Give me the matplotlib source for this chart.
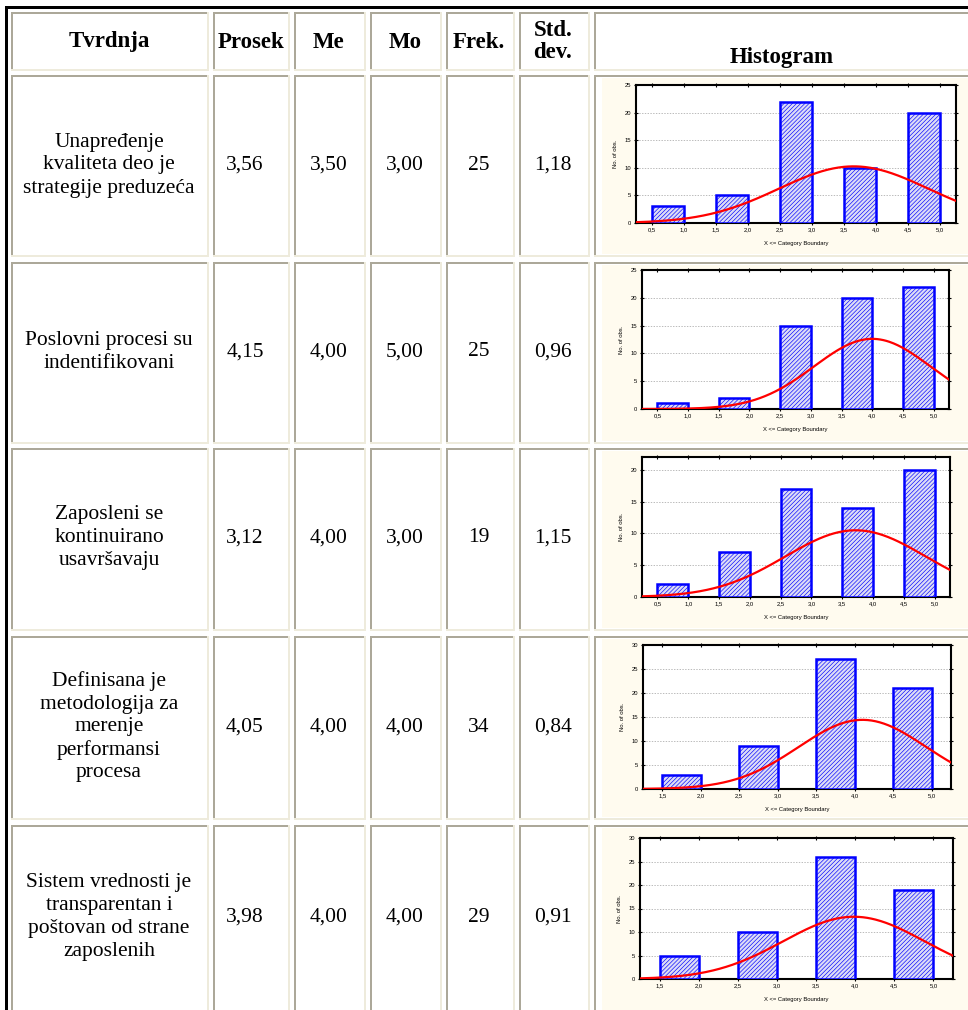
import numpy as np
import matplotlib.pyplot as plt
from matplotlib.patches import Rectangle

W, H = 968, 1010

headers = ["Tvrdnja", "Prosek", "Me", "Mo", "Frek.", ["Std.", "dev."], "Histogram"]
statements = [
    ["Unapređenje", "kvaliteta deo je", "strategije preduzeća"],
    ["Poslovni procesi su", "indentifikovani"],
    ["Zaposleni se", "kontinuirano", "usavršavaju"],
    ["Definisana je", "metodologija za", "merenje", "performansi", "procesa"],
    ["Sistem vrednosti je", "transparentan i", "poštovan od strane", "zaposlenih"],
]
prosek = ["3,56", "4,15", "3,12", "4,05", "3,98"]
me = ["3,50", "4,00", "4,00", "4,00", "4,00"]
mo = ["3,00", "5,00", "3,00", "4,00", "4,00"]
frek = ["25", "25", "19", "34", "29"]
std_dev = ["1,18", "0,96", "1,15", "0,84", "0,91"]

# histogram data: upper category boundary and count
bounds = [
    [1.0, 2.0, 3.0, 4.0, 5.0],
    [1.0, 2.0, 3.0, 4.0, 5.0],
    [1.0, 2.0, 3.0, 4.0, 5.0],
    [2.0, 3.0, 4.0, 5.0],
    [2.0, 3.0, 4.0, 5.0],
]
counts = [
    [3, 5, 22, 10, 20],
    [1, 2, 15, 20, 22],
    [2, 7, 17, 14, 20],
    [3, 9, 27, 21],
    [5, 10, 26, 19],
]
xticks = [
    [0.5, 1.0, 1.5, 2.0, 2.5, 3.0, 3.5, 4.0, 4.5, 5.0],
    [0.5, 1.0, 1.5, 2.0, 2.5, 3.0, 3.5, 4.0, 4.5, 5.0],
    [0.5, 1.0, 1.5, 2.0, 2.5, 3.0, 3.5, 4.0, 4.5, 5.0],
    [1.5, 2.0, 2.5, 3.0, 3.5, 4.0, 4.5, 5.0],
    [1.5, 2.0, 2.5, 3.0, 3.5, 4.0, 4.5, 5.0],
]
yticks = [
    [0, 5, 10, 15, 20, 25],
    [0, 5, 10, 15, 20, 25],
    [0, 5, 10, 15, 20],
    [0, 5, 10, 15, 20, 25, 30],
    [0, 5, 10, 15, 20, 25, 30],
]

# layout in pixels
col_x0 = [11, 213, 294, 370, 446, 519, 594]
col_x1 = [209, 290, 366, 442, 515, 590, 975]
row_y0 = [12, 75, 262, 448, 636, 825]
row_y1 = [71, 257, 444, 631, 820, 1020]
col_cx = [109, 251, 329, 405, 479, 553]
row_cy = [165, 352, 538, 727, 917]
line_h = 23
hist_axes = [  # left, right, top, bottom
    (636, 956, 85, 223),
    (642, 949, 270, 409),
    (642, 950, 457, 597),
    (643, 951, 645, 789),
    (640, 953, 838, 979),
]
xlims = [(0.25, 5.25)] * 3 + [(1.25, 5.25)] * 2
ylims = [25, 25, 22, 30, 30]

plt.rcParams['hatch.linewidth'] = 0.45
fig = plt.figure(figsize=(W / 100, H / 100), dpi=100)
ax = fig.add_axes([0, 0, 1, 1])
ax.set_xlim(0, W)
ax.set_ylim(H, 0)
ax.axis('off')

gray = '#aca899'
light = '#eeebdc'


def cell(x0, y0, x1, y1):
    ax.add_patch(Rectangle((x0, y0), x1 - x0, 2, color=gray, lw=0))
    ax.add_patch(Rectangle((x0, y0), 2, y1 - y0, color=gray, lw=0))
    ax.add_patch(Rectangle((x0, y1 - 2), x1 - x0, 2, color=light, lw=0))
    ax.add_patch(Rectangle((x1 - 2, y0), 2, y1 - y0, color=light, lw=0))


# outer table border
ax.add_patch(Rectangle((5, 6), W, 2.5, color='black', lw=0))
ax.add_patch(Rectangle((5, 6), 2.5, H, color='black', lw=0))

for r in range(6):
    for c in range(7):
        cell(col_x0[c], row_y0[r], col_x1[c], row_y1[r])

serif = 'Liberation Serif'
head_kw = dict(ha='center', va='center', family=serif, fontsize=16.5, fontweight='bold')
for c, h in enumerate(headers[:-1]):
    if isinstance(h, list):
        ax.text(col_cx[c], 30, h[0], **head_kw)
        ax.text(col_cx[c], 53, h[1], **head_kw)
    else:
        ax.text(col_cx[c], 42, h, **head_kw)
ax.text(782, 57, headers[-1], **head_kw)

for r in range(5):
    lines = statements[r]
    y_start = row_cy[r] - (len(lines) - 1) * line_h / 2
    for i, line in enumerate(lines):
        ax.text(col_cx[0], y_start + i * line_h, line, ha='center', va='center',
                family=serif, fontsize=15.5)
    for c, vals in enumerate([prosek, me, mo, frek, std_dev]):
        ax.text(col_cx[c + 1] - (6 if c == 0 else 0), row_cy[r], vals[r],
                ha='center', va='center', family=serif, fontsize=15.5)

sans = 'Liberation Sans'
for r in range(5):
    y0, y1 = row_y0[r + 1], row_y1[r + 1]
    ax.add_patch(Rectangle((602, y0 + 3), W - 602, y1 - y0 - 6, color='#fffbef', lw=0))

    left, right, top, bottom = hist_axes[r]
    hax = fig.add_axes([left / W, 1 - bottom / H, (right - left) / W, (bottom - top) / H])
    hax.set_facecolor('white')
    ub = np.array(bounds[r])
    cnt = np.array(counts[r])
    hax.bar(ub - 0.5, cnt, width=0.5, align='edge', facecolor='#dcdcf6',
            edgecolor='#0000ff', hatch='////////', linewidth=1.8, zorder=3)
    n = cnt.sum()
    mean = (ub * cnt).sum() / n
    sd = np.sqrt((cnt * (ub - mean) ** 2).sum() / n)
    xs = np.linspace(xlims[r][0], xlims[r][1], 300)
    ys = n * 0.5 * np.exp(-0.5 * ((xs - mean) / sd) ** 2) / (sd * np.sqrt(2 * np.pi))
    hax.plot(xs, ys, color='red', lw=1.6, zorder=4)
    hax.set_xlim(*xlims[r])
    hax.set_ylim(0, ylims[r])
    hax.set_xticks(xticks[r])
    hax.set_xticklabels([f"{v:.1f}".replace('.', ',') for v in xticks[r]])
    hax.set_yticks(yticks[r])
    hax.grid(axis='y', color='#a0a0a0', ls=(0, (2, 2)), lw=0.5, zorder=1)
    hax.tick_params(labelsize=4.2, length=2.5, width=0.8, pad=2, top=True, right=True,
                    direction='inout')
    for lab in hax.get_xticklabels() + hax.get_yticklabels():
        lab.set_family(sans)
    for s in hax.spines.values():
        s.set_linewidth(1.5)
    hax.set_ylabel("No. of obs.", fontsize=4.2, family=sans, labelpad=5)
    hax.set_xlabel("X <= Category Boundary", fontsize=4.2, family=sans, labelpad=6)

fig.savefig('out.png', dpi=100)
